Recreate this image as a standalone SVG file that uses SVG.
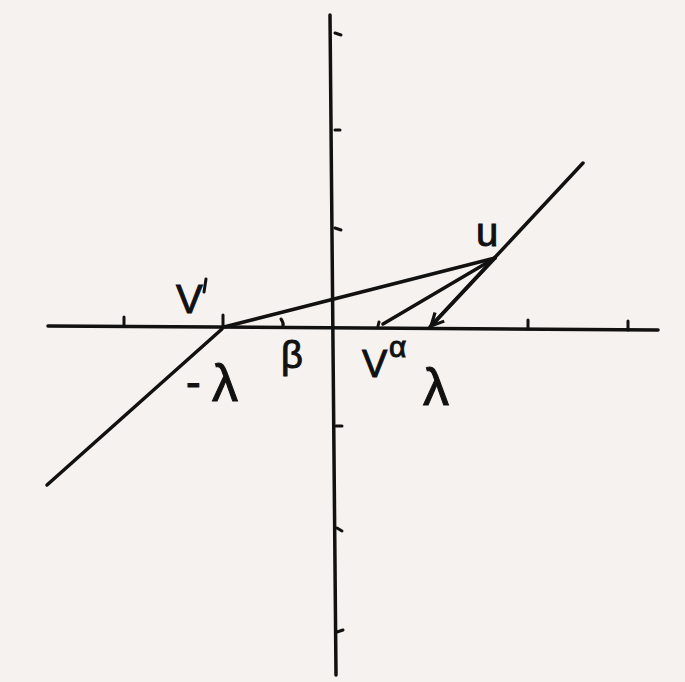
<svg xmlns="http://www.w3.org/2000/svg" width="685" height="682" viewBox="0 0 685 682">
<style>
.ln{stroke:#111;stroke-width:3.5;fill:none;stroke-linecap:round;stroke-linejoin:round}
.tk{stroke:#111;stroke-width:3;fill:none;stroke-linecap:round}
.t{font-family:"Liberation Sans","DejaVu Sans",sans-serif;fill:#111;stroke:#111;stroke-width:1}
</style>
<defs>
<marker id="ah" viewBox="0 0 10 10" refX="9" refY="5" markerWidth="4.5" markerHeight="4.5" orient="auto" markerUnits="strokeWidth">
<path d="M1,1 L9,5 L1,9" fill="none" stroke="#111" stroke-width="2"/>
</marker>
</defs>
<rect width="685" height="682" fill="#f6f2ef"/>
<g id="axes">
<line class="ln" x1="48" y1="326" x2="658" y2="330"/>
<line class="ln" x1="330" y1="15" x2="336" y2="675"/>
</g>
<g id="ticks">
<line class="tk" x1="124" y1="317" x2="124" y2="326"/>
<line class="tk" x1="223" y1="315" x2="223" y2="327"/>
<line class="tk" x1="528" y1="320" x2="528" y2="329"/>
<line class="tk" x1="628" y1="321" x2="628" y2="330"/>
<line class="tk" x1="335" y1="33" x2="341" y2="35"/>
<line class="tk" x1="335" y1="130" x2="340" y2="130"/>
<line class="tk" x1="335" y1="228" x2="341" y2="230"/>
<line class="tk" x1="336" y1="426" x2="342" y2="426"/>
<line class="tk" x1="337" y1="528" x2="342" y2="531"/>
<line class="tk" x1="337" y1="632" x2="343" y2="630"/>
</g>
<g id="connectors">
<line class="ln" x1="47" y1="485" x2="222" y2="329"/>
<line class="ln" x1="430" y1="327" x2="583" y2="163"/>
<line class="ln" x1="224" y1="327" x2="495" y2="258"/>
<line class="ln" x1="495" y1="258" x2="383" y2="324"/>
<line class="ln" x1="495" y1="258" x2="431" y2="326" marker-end="url(#ah)"/>
<path class="tk" d="M281,319 Q284,323 283,327"/>
<path class="tk" d="M378,326 L379,322"/>
</g>
<g id="labels">
<text class="t" x="476" y="246" font-size="40">u</text>
<text class="t" x="176" y="313" font-size="40">V</text>
<line class="tk" x1="206" y1="279" x2="204" y2="292"/>
<text class="t" x="186" y="397" font-size="44">-</text>
<text class="t" x="212" y="401" font-size="52">λ</text>
<text class="t" x="281" y="368" font-size="38">β</text>
<text class="t" x="362" y="377" font-size="38">V</text>
<text class="t" x="389" y="357" font-size="30">α</text>
<text class="t" x="423" y="405" font-size="52">λ</text>
</g>
</svg>
